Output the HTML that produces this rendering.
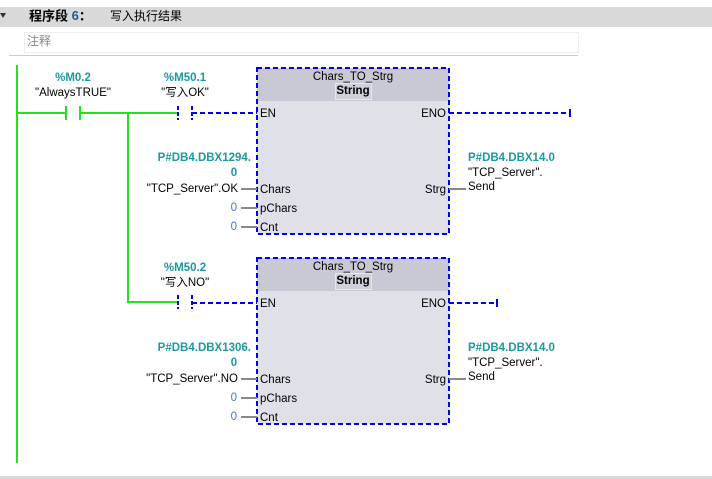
<!DOCTYPE html>
<html><head><meta charset="utf-8"><style>
body{margin:0;width:712px;height:479px;overflow:hidden;background:#fff}
svg{display:block}
text{font-family:"Liberation Sans","Noto Sans CJK SC",sans-serif;font-size:11.5px;dominant-baseline:middle}
.t{fill:#1a9aa0;font-weight:bold}
.z{fill:#4a6fe0}
.b{fill:#000}
</style></head><body>
<svg width="712" height="479" viewBox="0 0 712 479">
<rect x="0" y="7" width="712" height="20" fill="#d9d9d9"/>
<polygon points="0,13 6,13 3,18" fill="#333"/>
<text x="29" y="17" style="font-size:13px;font-weight:bold">程序段 <tspan fill="#1a5a9a">6</tspan>：</text>
<text x="110" y="17" style="font-size:12px">写入执行结果</text>
<rect x="24.5" y="32.5" width="554" height="20" fill="#fff" stroke="#eee"/>
<text x="27" y="42" style="font-size:12px;fill:#888">注释</text>
<line x1="9" y1="55.5" x2="578" y2="55.5" stroke="#ccc"/>
<rect x="0" y="476" width="712" height="3" fill="#d9d9d9"/>
<rect x="16" y="65" width="2" height="398" fill="#22e022"/>
<g stroke="#22e022" stroke-width="2" fill="none">
<line x1="17" y1="113" x2="65" y2="113"/>
<line x1="66" y1="106" x2="66" y2="120"/>
<line x1="80" y1="106" x2="80" y2="120"/>
<line x1="80" y1="113" x2="177" y2="113"/>
<polyline points="128,113 128,302 177,302"/>
</g>
<g stroke="#0000ee" stroke-width="2" fill="none" stroke-dasharray="5,3">
<line x1="178" y1="106" x2="178" y2="120" stroke-dasharray="4,2"/>
<line x1="192" y1="106" x2="192" y2="120" stroke-dasharray="4,2"/>
<line x1="192" y1="113" x2="257" y2="113"/>
<line x1="449" y1="113" x2="570" y2="113"/>
<line x1="178" y1="295" x2="178" y2="309" stroke-dasharray="4,2"/>
<line x1="192" y1="295" x2="192" y2="309" stroke-dasharray="4,2"/>
<line x1="192" y1="303" x2="257" y2="303"/>
<line x1="449" y1="303" x2="497" y2="303"/>
</g>
<line x1="570" y1="109" x2="570" y2="117" stroke="#0000ee" stroke-width="2"/>
<line x1="497" y1="299" x2="497" y2="307" stroke="#0000ee" stroke-width="2"/>
<text class="t" x="73" y="78" text-anchor="middle">%M0.2</text>
<text class="b" x="73" y="93" text-anchor="middle">"AlwaysTRUE"</text>
<text class="t" x="185" y="78" text-anchor="middle">%M50.1</text>
<text class="b" x="185" y="93" text-anchor="middle">"写入OK"</text>
<text class="t" x="185" y="268" text-anchor="middle">%M50.2</text>
<text class="b" x="185" y="283" text-anchor="middle">"写入NO"</text>
<g id="bx">
<rect x="257" y="68" width="192" height="166" fill="#e0e0e8"/>
<rect x="257" y="68" width="192" height="33" fill="#c9c9d5"/>
<rect x="335.5" y="83.5" width="36" height="16" fill="#d0d0da" stroke="#e6e6ec"/>
<text class="b" x="353" y="77" text-anchor="middle">Chars_TO_Strg</text>
<text class="b" x="353" y="91" text-anchor="middle" style="font-weight:bold">String</text>
<text class="b" x="260" y="114">EN</text>
<text class="b" x="446" y="114" text-anchor="end">ENO</text>
<text class="b" x="260" y="190">Chars</text>
<text class="b" x="260" y="209">pChars</text>
<text class="b" x="260" y="228">Cnt</text>
<text class="b" x="446" y="190" text-anchor="end">Strg</text>
<rect x="257" y="68" width="192" height="166" fill="none" stroke="#0000ee" stroke-width="2" stroke-dasharray="5,3"/>
<g stroke="#888" stroke-width="2"><line x1="241" y1="189" x2="257" y2="189"/><line x1="241" y1="208" x2="257" y2="208"/><line x1="241" y1="227" x2="257" y2="227"/><line x1="449" y1="189" x2="466" y2="189"/></g>
<text class="z" x="237" y="208" text-anchor="end">0</text>
<text class="z" x="237" y="227" text-anchor="end">0</text>
<text class="t" x="468" y="158">P#DB4.DBX14.0</text>
<text class="b" x="468" y="173">"TCP_Server".</text>
<text class="b" x="468" y="187">Send</text>
</g>
<use href="#bx" y="190"/>
<text class="t" x="251" y="158" text-anchor="end">P#DB4.DBX1294.</text>
<text class="t" x="234" y="173" text-anchor="middle">0</text>
<text class="b" x="238" y="189" text-anchor="end">"TCP_Server".OK</text>
<text class="t" x="251" y="348" text-anchor="end">P#DB4.DBX1306.</text>
<text class="t" x="234" y="363" text-anchor="middle">0</text>
<text class="b" x="238" y="379" text-anchor="end">"TCP_Server".NO</text>
</svg>
</body></html>
